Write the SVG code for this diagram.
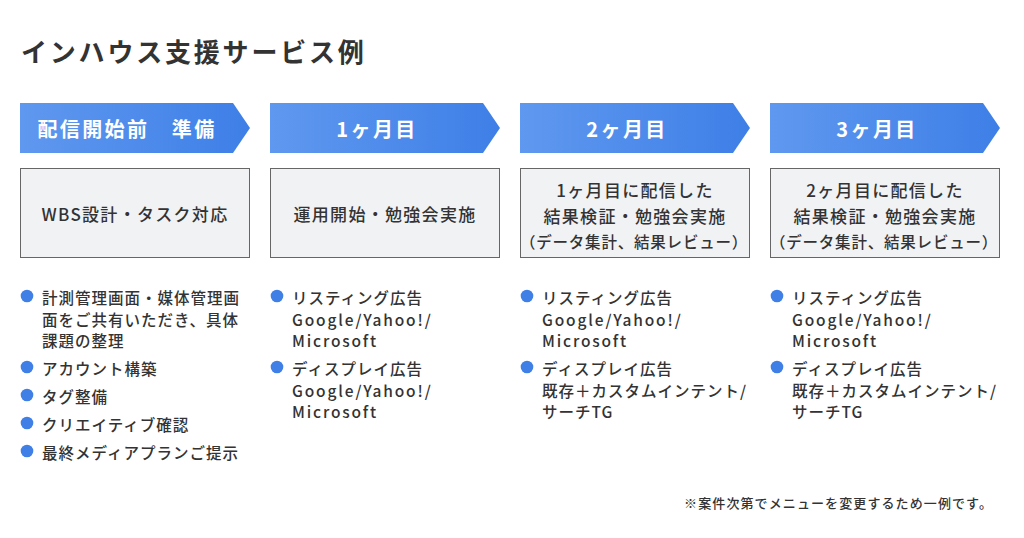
<svg xmlns="http://www.w3.org/2000/svg" width="1024" height="538" viewBox="0 0 1024 538">
<defs>
<linearGradient id="g" x1="0" y1="0" x2="1" y2="0">
<stop offset="0" stop-color="#5f98ef"/>
<stop offset="1" stop-color="#3e7fe7"/>
</linearGradient>
<style>
text{font-family:"Noto Sans CJK JP","Noto Sans",sans-serif;fill:#333;}
.title{font-size:26px;font-weight:700;letter-spacing:2.8px;}
.hd{font-size:20px;font-weight:700;fill:#fff;letter-spacing:2.4px;text-anchor:middle;dominant-baseline:central;}
.bx{fill:#f1f2f4;stroke:#666;stroke-width:1;}
.bt{font-size:17px;font-weight:500;text-anchor:middle;dominant-baseline:central;letter-spacing:1.3px;}
.bt3{font-size:15.5px;letter-spacing:0.8px;}
.li{font-size:15.5px;font-weight:500;dominant-baseline:central;letter-spacing:1px;}
.lat{letter-spacing:1.85px;}
.dot{fill:#3f7fe6;}
.note{font-size:13px;font-weight:500;text-anchor:end;dominant-baseline:central;letter-spacing:1.1px;}
</style>
</defs>
<rect width="1024" height="538" fill="#fff"/>
<text class="title" x="21" y="62">インハウス支援サービス例</text>

<g id="col1">
<path d="M20 103H233L250 128L233 153H20Z" fill="url(#g)"/>
<text class="hd" x="127" y="128">配信開始前　準備</text>
<rect class="bx" x="20.5" y="168.5" width="229" height="89"/>
<text class="bt" x="135" y="213">WBS設計・タスク対応</text>
<circle class="dot" cx="27" cy="296" r="6.3"/>
<text class="li" x="42" y="297">計測管理画面・媒体管理画</text>
<text class="li" x="42" y="318.5">面をご共有いただき、具体</text>
<text class="li" x="42" y="340">課題の整理</text>
<circle class="dot" cx="27" cy="367" r="6.3"/>
<text class="li" x="42" y="368">アカウント構築</text>
<circle class="dot" cx="27" cy="395" r="6.3"/>
<text class="li" x="42" y="396">タグ整備</text>
<circle class="dot" cx="27" cy="423" r="6.3"/>
<text class="li" x="42" y="424">クリエイティブ確認</text>
<circle class="dot" cx="27" cy="451" r="6.3"/>
<text class="li" x="42" y="452">最終メディアプランご提示</text>
</g>

<g id="col2">
<path d="M270 103H483L500 128L483 153H270Z" fill="url(#g)"/>
<text class="hd" x="377" y="128">1ヶ月目</text>
<rect class="bx" x="270.5" y="168.5" width="229" height="89"/>
<text class="bt" x="385" y="213">運用開始・勉強会実施</text>
<circle class="dot" cx="277" cy="296" r="6.3"/>
<text class="li" x="292" y="297">リスティング広告</text>
<text class="li lat" x="292" y="318.5">Google/Yahoo!/</text>
<text class="li lat" x="292" y="340">Microsoft</text>
<circle class="dot" cx="277" cy="367" r="6.3"/>
<text class="li" x="292" y="368">ディスプレイ広告</text>
<text class="li lat" x="292" y="389.5">Google/Yahoo!/</text>
<text class="li lat" x="292" y="411">Microsoft</text>
</g>

<g id="col3">
<path d="M520 103H733L750 128L733 153H520Z" fill="url(#g)"/>
<text class="hd" x="627" y="128">2ヶ月目</text>
<rect class="bx" x="520.5" y="168.5" width="229" height="89"/>
<text class="bt" x="635" y="189">1ヶ月目に配信した</text>
<text class="bt" x="635" y="215">結果検証・勉強会実施</text>
<text class="bt bt3" x="634" y="241">（データ集計、結果レビュー）</text>
<circle class="dot" cx="527" cy="296" r="6.3"/>
<text class="li" x="542" y="297">リスティング広告</text>
<text class="li lat" x="542" y="318.5">Google/Yahoo!/</text>
<text class="li lat" x="542" y="340">Microsoft</text>
<circle class="dot" cx="527" cy="367" r="6.3"/>
<text class="li" x="542" y="368">ディスプレイ広告</text>
<text class="li" x="542" y="389.5">既存＋カスタムインテント/</text>
<text class="li" x="542" y="411">サーチTG</text>
</g>

<g id="col4">
<path d="M770 103H983L1000 128L983 153H770Z" fill="url(#g)"/>
<text class="hd" x="877" y="128">3ヶ月目</text>
<rect class="bx" x="770.5" y="168.5" width="229" height="89"/>
<text class="bt" x="885" y="189">2ヶ月目に配信した</text>
<text class="bt" x="885" y="215">結果検証・勉強会実施</text>
<text class="bt bt3" x="884" y="241">（データ集計、結果レビュー）</text>
<circle class="dot" cx="777" cy="296" r="6.3"/>
<text class="li" x="792" y="297">リスティング広告</text>
<text class="li lat" x="792" y="318.5">Google/Yahoo!/</text>
<text class="li lat" x="792" y="340">Microsoft</text>
<circle class="dot" cx="777" cy="367" r="6.3"/>
<text class="li" x="792" y="368">ディスプレイ広告</text>
<text class="li" x="792" y="389.5">既存＋カスタムインテント/</text>
<text class="li" x="792" y="411">サーチTG</text>
</g>

<g id="connectors"></g>

<text class="note" x="993" y="502">※案件次第でメニューを変更するため一例です。</text>
</svg>
